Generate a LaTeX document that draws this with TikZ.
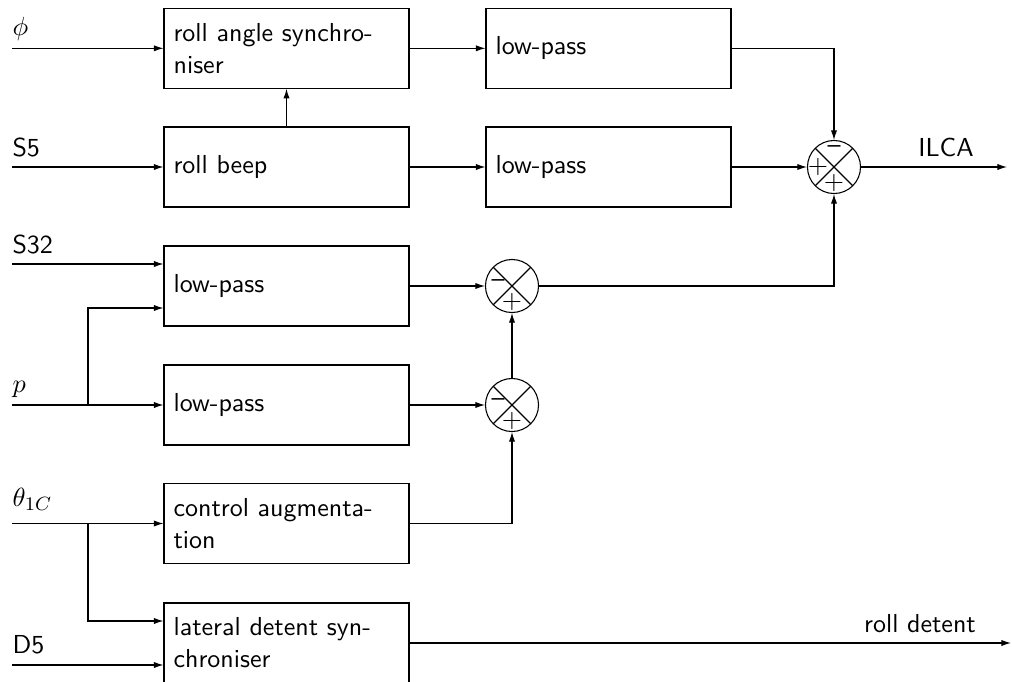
\documentclass[tikz,border=0pt]{standalone}
\usetikzlibrary{arrows.meta,calc}
\begin{document}
\begin{tikzpicture}[
  x=0.41667pt, y=-0.41667pt,
  line width=0.45pt,
  font=\fontsize{10.83pt}{13.3pt}\selectfont\sffamily,
  >={Latex[length=4pt,width=2.6pt]},
  block/.style={draw, rectangle, minimum width=102.08pt, minimum height=33.33pt,
    text width=94.08pt, inner xsep=4pt, inner ysep=0pt, align=left},
  sum/.style={draw, circle, minimum size=22.1pt, inner sep=0pt,
    path picture={\draw (path picture bounding box.north west) -- (path picture bounding box.south east)
                        (path picture bounding box.south west) -- (path picture bounding box.north east);}},
  sign/.style={inner sep=0pt},
  lbl/.style={anchor=base west, inner sep=0pt},
  outlbl/.style={anchor=base, inner sep=0pt},
]
\useasboundingbox (0,0) rectangle (1012,682);

% first column of blocks
\node[block] (b1) at (286.5,48.3) {roll angle synchro-\\niser};
\node[block] (b2) at (286.5,167)  {roll beep};
\node[block] (b3) at (286.5,286)  {low-pass};
\node[block] (b4) at (286.5,405)  {low-pass};
\node[block] (b5) at (286.5,523.5){control augmenta-\\tion};
\node[block] (b6) at (286.5,643)  {lateral detent syn-\\chroniser};

% second column of blocks
\node[block] (c1) at (608.5,48.3) {low-pass};
\node[block] (c2) at (608.5,167)  {low-pass};

% summing junctions
\node[sum] (s1) at (834,167) {};
\node[sum] (s2) at (512,286) {};
\node[sum] (s3) at (512,405) {};

\node[sign] (s1m) at ($(s1)+(0,-17.5)$) {\textendash};
\node[sign] (s1p) at ($(s1)+(-16,0)$)   {+};
\node[sign] (s1q) at ($(s1)+(0,15.5)$)  {+};
\node[sign] (s2m) at ($(s2)+(-14,-2)$)  {\textendash};
\node[sign] (s2p) at ($(s2)+(0,15.5)$)  {+};
\node[sign] (s3m) at ($(s3)+(-14,-2)$)  {\textendash};
\node[sign] (s3p) at ($(s3)+(0,15.5)$)  {+};

% signal sources and sinks
\coordinate (iphi) at (12,48.3);
\coordinate (iS5)  at (12,167);
\coordinate (iS32) at (12,264);
\coordinate (ip)   at (12,405);
\coordinate (ith)  at (12,523.5);
\coordinate (iD5)  at (12,665);
\coordinate (psplit)  at (88,405);
\coordinate (thsplit) at (88,523.5);
\coordinate (oILCA) at (1007,167);
\coordinate (oRD)   at (1011,643);

% input labels
\node[lbl] (lphi) at (12,35)    {$\phi$};
\node[lbl] (lS5)  at (12,156.5) {S5};
\node[lbl] (lS32) at (12,253)   {S32};
\node[lbl] (lp)   at (12,392)   {$p$};
\node[lbl] (lth)  at (12,506)   {$\theta_{1C}$};
\node[lbl] (lD5)  at (12,653)   {D5};

% output labels
\node[outlbl] (lILCA) at (946,156.7) {ILCA};
\node[outlbl] (lRD)   at (920,632.7) {roll detent};

% inputs
\draw[->] (iphi) -- (b1.west);
\draw[->] (iS5)  -- (b2.west);
\draw[->] (iS32) -- (iS32 -| b3.west);
\draw[->] (ip)   -- (b4.west);
\draw[->] (psplit) |- ($(b3.west)+(0,22)$);
\draw[->] (ith)  -- (b5.west);
\draw[->] (thsplit) |- ($(b6.west)+(0,-22)$);
\draw[->] (iD5)  -- (iD5 -| b6.west);

% internal connections
\draw[->] (b2.north) -- (b1.south);
\draw[->] (b1.east) -- (c1.west);
\draw[->] (b2.east) -- (c2.west);
\draw[->] (c1.east) -| (s1.north);
\draw[->] (c2.east) -- (s1.west);
\draw[->] (b3.east) -- (s2.west);
\draw[->] (b4.east) -- (s3.west);
\draw[->] (s3.north) -- (s2.south);
\draw[->] (b5.east) -| (s3.south);
\draw[->] (s2.east) -| (s1.south);

% outputs
\draw[->] (s1.east) -- (oILCA);
\draw[->] (b6.east) -- (oRD);
\end{tikzpicture}
\end{document}
